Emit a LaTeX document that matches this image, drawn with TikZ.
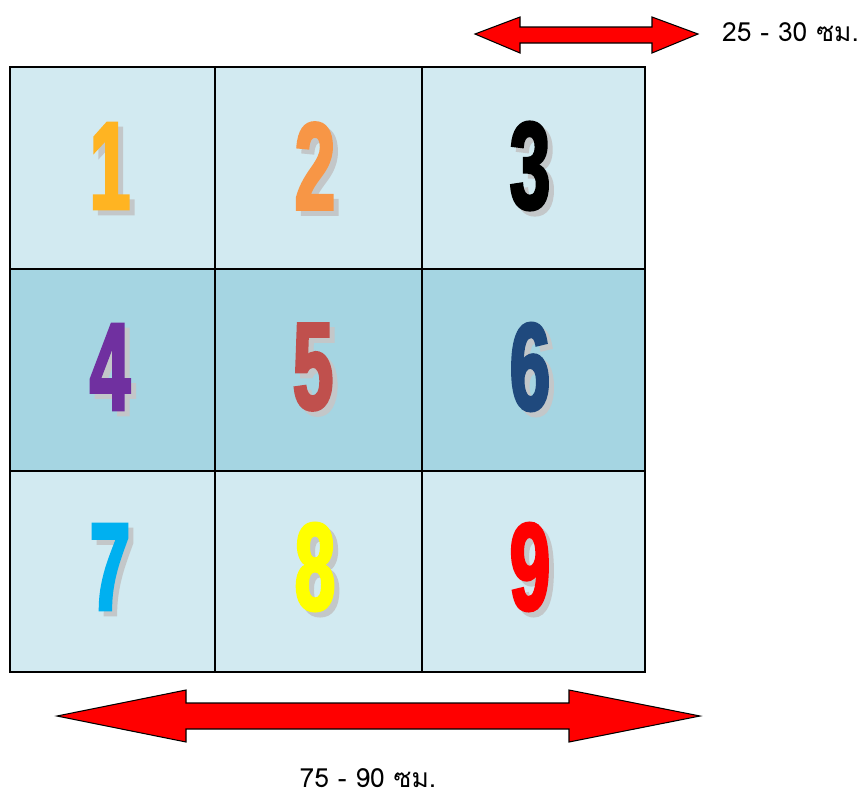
\documentclass[tikz,border=0pt]{standalone}
\usepackage{fontspec}
\usepackage{xcolor}
\newfontfamily\thaifont[Script=Thai]{Loma}
\newfontfamily\digitfont[FakeStretch=0.58,FakeBold=2.5]{Liberation Sans Bold}
\definecolor{cellpale}{HTML}{D2EAF1}
\definecolor{cellmid}{HTML}{A5D5E2}
\definecolor{shadegray}{HTML}{C3C7C9}
\definecolor{digitone}{HTML}{FFB422}
\definecolor{digittwo}{HTML}{F79646}
\definecolor{digitthree}{HTML}{000000}
\definecolor{digitfour}{HTML}{7030A0}
\definecolor{digitfive}{HTML}{C0504D}
\definecolor{digitsix}{HTML}{1F497D}
\definecolor{digitseven}{HTML}{00B0F0}
\definecolor{digiteight}{HTML}{FFFF00}
\definecolor{digitnine}{HTML}{FF0000}

\begin{document}
\begin{tikzpicture}[
  x=0.03cm, y=-0.03cm,
  grid/.style={draw=black, line width=1.4pt},
  digit/.style={font=\digitfont\fontsize{106}{106}\selectfont, inner sep=0pt},
  digitshade/.style={digit, text=shadegray},
  span/.style={draw=black, line width=0.9pt, fill=red, line join=miter},
  size/.style={font=\thaifont\fontsize{22.5}{26}\selectfont, text=black, inner sep=0pt},
]
\useasboundingbox (0,0) rectangle (863,798);

% ===== cells =====
\fill[cellpale] (10,67) rectangle (645,269);
\fill[cellmid] (10,269) rectangle (645,471);
\fill[cellpale] (10,471) rectangle (645,672);
\draw[grid] (10,67) rectangle (645,672);
\draw[grid] (215,67) -- (215,672);
\draw[grid] (422,67) -- (422,672);
\draw[grid] (10,269) -- (645,269);
\draw[grid] (10,471) -- (645,471);

% ===== digits =====
\foreach \n/\cx/\cy/\col in {1/110/166/digitone, 2/315/166/digittwo, 3/530/166/digitthree,
    4/110/367/digitfour, 5/313/367/digitfive, 6/530/367/digitsix,
    7/110/567/digitseven, 8/315/567/digiteight, 9/530/567/digitnine}{
  \node[digitshade] at (\cx+5,\cy+5) {\n};
  \node[digit, text=\col] (d\n) at (\cx,\cy) {\n};
}

% ===== width arrow (top) =====
\draw[span] (475,34) -- (520,17) -- (520,27) -- (652,27) -- (652,17) -- (698,34)
  -- (652,53) -- (652,43) -- (520,43) -- (520,53) -- cycle;
\node[size, anchor=west] (topsize) at (722,32) {25 - 30 ซม.};

% ===== width arrow (bottom) =====
\draw[span] (57,716) -- (186,690) -- (186,703) -- (569,703) -- (569,690) -- (700,716)
  -- (569,742) -- (569,729) -- (186,729) -- (186,742) -- cycle;
\node[size] (botsize) at (368,778) {75 - 90 ซม.};

\end{tikzpicture}
\end{document}
